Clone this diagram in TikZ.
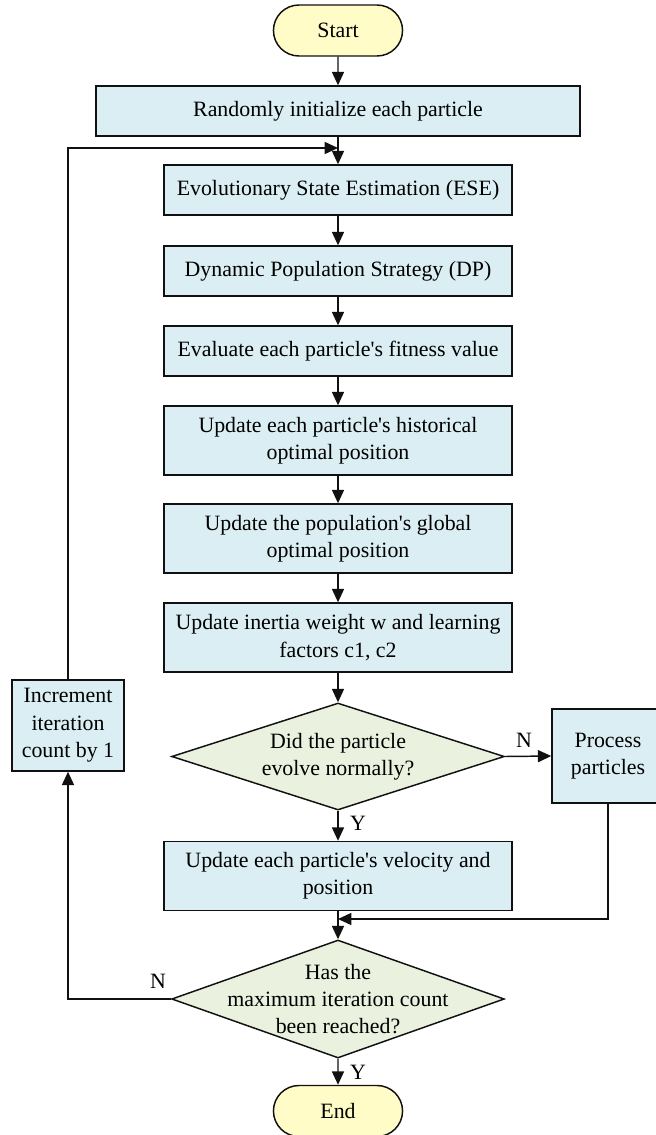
\documentclass[tikz,border=0pt]{standalone}
\usepackage{fontspec}
\setmainfont{Liberation Serif}[Ligatures=TeXOff]
\usetikzlibrary{shapes.geometric,shapes.misc,arrows.meta}

\definecolor{fcink}{HTML}{111111}
\definecolor{procfill}{HTML}{DAEEF3}
\definecolor{decfill}{HTML}{EAF1DE}
\definecolor{termfill}{HTML}{FFFCC8}

\begin{document}
\begin{tikzpicture}[
  x=0.75pt, y=-0.75pt,
  font=\fontsize{16.4}{20.5}\selectfont,
  line width=1.1pt,
  procbox/.style={draw=fcink, fill=procfill, align=center, inner sep=2pt,
    minimum width=261pt},
  onerow/.style={procbox, minimum height=37.5pt},
  tworow/.style={procbox, minimum height=51.75pt},
  sidebox/.style={procbox, minimum width=84pt},
  termbox/.style={rounded rectangle, draw=fcink, fill=termfill,
    minimum width=103.5pt, minimum height=38.25pt},
  decbox/.style={diamond, draw=fcink, fill=decfill, inner sep=0pt,
    minimum width=249.5pt},
  flow/.style={draw=fcink, -{Triangle[length=10pt,width=9pt]}},
  tag/.style={inner sep=0pt},
]
\useasboundingbox (0,0) rectangle (656,1135);
\clip (0,0) rectangle (656,1135);

% main column
\node[termbox] (start) at (338,30.5) {Start};
\node[onerow, minimum width=363pt] (init) at (338,111)
  {Randomly initialize each particle};
\node[onerow] (ese) at (338,190) {Evolutionary State Estimation (ESE)};
\node[onerow] (dps) at (338,271) {Dynamic Population Strategy (DP)};
\node[onerow] (fit) at (338,351) {Evaluate each particle's fitness value};
\node[tworow] (pbest) at (338,440.5)
  {Update each particle's historical\\optimal position};
\node[tworow] (gbest) at (338,538.5)
  {Update the population's global\\optimal position};
\node[tworow] (coef) at (338,637.5)
  {Update inertia weight w and learning\\factors c1, c2};
\node[decbox, minimum height=80.25pt,
  label={[align=center]center:{Did the particle\\evolve normally?}}]
  (dia1) at (338,756.5) {};
\node[tworow] (upvel) at (338,876)
  {Update each particle's velocity and\\position};
\node[decbox, minimum height=88.5pt,
  label={[align=center]center:{Has the\\maximum iteration count\\been reached?}}]
  (dia2) at (338,999) {};
\node[termbox] (finish) at (338,1111) {End};

% side boxes
\node[sidebox, minimum height=68.25pt] (incr) at (68,725.5)
  {Increment\\iteration\\count by 1};
\node[sidebox, minimum height=70.5pt] (fix) at (608,756)
  {Process\\particles};

\coordinate (loopin) at (338,148);
\coordinate (merge) at (338,919);

% connectors
\draw[flow] (start) -- (init);
\draw[flow] (init) -- (ese);
\draw[flow] (ese) -- (dps);
\draw[flow] (dps) -- (fit);
\draw[flow] (fit) -- (pbest);
\draw[flow] (pbest) -- (gbest);
\draw[flow] (gbest) -- (coef);
\draw[flow] (coef) -- (dia1);
\draw[flow] (dia1) -- (upvel);
\draw[flow] (dia1.east) -- (fix.west);
\draw[flow] (fix.south) |- (merge);
\draw[flow] (upvel) -- (dia2);
\draw[flow] (dia2) -- (finish);
\draw[flow] (dia2.west) -| (incr.south);
\draw[flow] (incr.north) |- (loopin);

% branch tags
\node[tag] (y1) at (358,823) {Y};
\node[tag] (n1) at (524,740) {N};
\node[tag] (y2) at (358,1072) {Y};
\node[tag] (n2) at (158,981) {N};

\end{tikzpicture}
\end{document}
